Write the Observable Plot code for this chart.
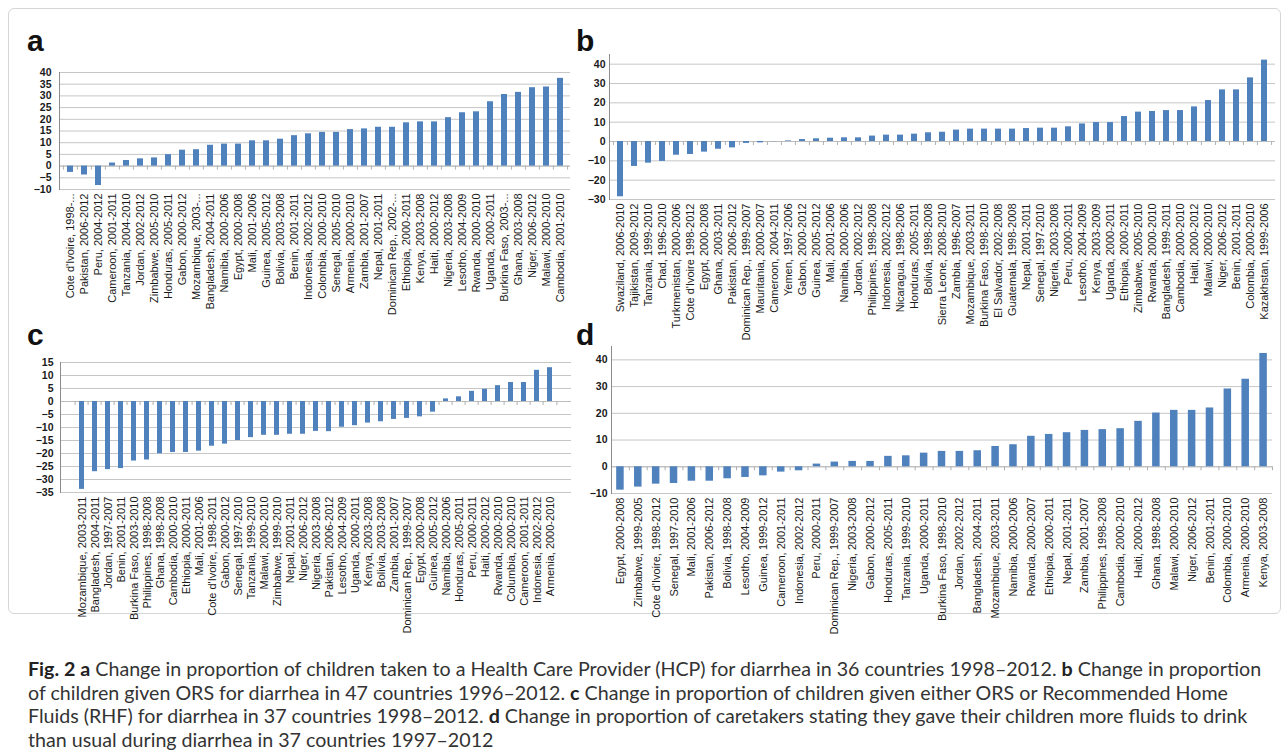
<!DOCTYPE html>
<html>
<head>
<meta charset="utf-8">
<script src="https://cdn.jsdelivr.net/npm/d3@7"></script>
<script src="https://cdn.jsdelivr.net/npm/@observablehq/plot@0.6"></script>
<style>
  html, body { margin: 0; padding: 0; background: #ffffff; }
  #page { position: relative; width: 1287px; height: 752px; overflow: hidden; }
  #box { position: absolute; left: 8px; top: 8px; width: 1271px; height: 604px; border: 1px solid #d6d6d6; border-radius: 6px; background: #fff; }
  .panel { position: absolute; }
  .panel svg text { font-family: "Liberation Sans", Arial, sans-serif; }
  .letter { position: absolute; font-family: "Liberation Sans", Arial, sans-serif; font-weight: bold; font-size: 30px; line-height: 1; color: #111; }
  #caption { position: absolute; left: 28px; top: 657px; font-family: Lato, "Open Sans", sans-serif; font-size: 18px; line-height: 23.7px; color: #333; white-space: nowrap; }
  #caption b { font-weight: bold; color: #222; }
</style>
</head>
<body>
<div id="page">
  <div id="box"></div>
  <div id="pa" class="panel" style="left:0px; top:60px;"></div>
  <div id="pb" class="panel" style="left:580px; top:45px;"></div>
  <div id="pc" class="panel" style="left:0px; top:350px;"></div>
  <div id="pd" class="panel" style="left:580px; top:335px;"></div>
  <div class="letter" style="left:27px; top:26px;">a</div>
  <div class="letter" style="left:576px; top:26px;">b</div>
  <div class="letter" style="left:27px; top:320px;">c</div>
  <div class="letter" style="left:576px; top:320px;">d</div>
  <div id="caption">
    <div class="cl"><b>Fig. 2</b> <b>a</b> Change in proportion of children taken to a Health Care Provider (HCP) for diarrhea in 36 countries 1998–2012. <b>b</b> Change in proportion</div>
    <div class="cl">of children given ORS for diarrhea in 47 countries 1996–2012. <b>c</b> Change in proportion of children given either ORS or Recommended Home</div>
    <div class="cl">Fluids (RHF) for diarrhea in 37 countries 1998–2012. <b>d</b> Change in proportion of caretakers stating they gave their children more fluids to drink</div>
    <div class="cl">than usual during diarrhea in 37 countries 1997–2012</div>
  </div>
</div>
<script>
// ---- Panel a: HCP ----
const aLabels = ["Cote d'Ivoire, 1998-...", "Pakistan, 2006-2012", "Peru, 2004-2012", "Cameroon, 2001-2011", "Tanzania, 2004-2010", "Jordan, 2002-2012", "Zimbabwe, 2005-2010", "Honduras, 2005-2011", "Gabon, 2000-2012", "Mozambique, 2003-...", "Bangladesh, 2004-2011", "Namibia, 2000-2006", "Egypt, 2000-2008", "Mali, 2001-2006", "Guinea, 2005-2012", "Bolivia, 2003-2008", "Benin, 2001-2011", "Indonesia, 2002-2012", "Colombia, 2000-2010", "Senegal, 2005-2010", "Armenia, 2000-2010", "Zambia, 2001-2007", "Nepal, 2001-2011", "Dominican Rep., 2002-...", "Ethiopia, 2000-2011", "Kenya, 2003-2008", "Haiti, 2000-2012", "Nigeria, 2003-2008", "Lesotho, 2004-2009", "Rwanda, 2000-2010", "Uganda, 2000-2011", "Burkina Faso, 2003-...", "Ghana, 2003-2008", "Niger, 2006-2012", "Malawi, 2000-2010", "Cambodia, 2001-2010"];
const aValues = [-2.7, -3.8, -8.3, 1.3, 2.4, 3.1, 3.5, 4.9, 6.8, 7.0, 8.9, 9.4, 9.4, 10.8, 10.8, 11.5, 13.0, 13.8, 14.4, 14.4, 15.6, 15.9, 16.6, 16.6, 18.5, 18.9, 18.9, 20.7, 22.8, 23.2, 27.5, 30.6, 31.5, 33.5, 33.8, 37.5];
const aTicks = [-10, -5, 0, 5, 10, 15, 20, 25, 30, 35, 40];

// ---- Panel b: ORS ----
const bLabels = ["Swaziland, 2006-2010", "Tajikistan, 2009-2012", "Tanzania, 1999-2010", "Chad, 1996-2010", "Turkmenistan, 2000-2006", "Cote d'Ivoire 1998-2012", "Egypt, 2000-2008", "Ghana, 2003-2011", "Pakistan, 2006-2012", "Dominican Rep., 1999-2007", "Mauritania, 2000-2007", "Cameroon, 2004-2011", "Yemen, 1997-2006", "Gabon, 2000-2012", "Guinea, 2005-2012", "Mali, 2001-2006", "Namibia, 2000-2006", "Jordan, 2002-2012", "Philippines, 1998-2008", "Indonesia, 2002-2012", "Nicaragua, 1998-2006", "Honduras, 2005-2011", "Bolivia, 1998-2008", "Sierra Leone, 2008-2010", "Zambia, 1996-2007", "Mozambique, 2003-2011", "Burkina Faso, 1998-2010", "El Salvador, 2002-2008", "Guatemala, 1998-2008", "Nepal, 2001-2011", "Senegal, 1997-2010", "Nigeria, 2003-2008", "Peru, 2000-2011", "Lesotho, 2004-2009", "Kenya, 2003-2009", "Uganda, 2000-2011", "Ethiopia, 2000-2011", "Zimbabwe, 2005-2010", "Rwanda, 2000-2010", "Bangladesh, 1999-2011", "Cambodia, 2000-2010", "Haiti, 2000-2012", "Malawi, 2000-2010", "Niger, 2006-2012", "Benin, 2001-2011", "Colombia, 2000-2010", "Kazakhstan, 1999-2006"];
const bValues = [-28.6, -12.9, -11.2, -10.3, -7.1, -6.7, -5.5, -4.0, -3.3, -1.0, -0.7, -0.1, 0.3, 1.0, 1.4, 1.7, 1.9, 1.9, 2.8, 3.3, 3.3, 3.8, 4.5, 4.8, 5.9, 6.4, 6.4, 6.4, 6.4, 6.7, 6.9, 6.9, 7.6, 9.1, 9.8, 9.8, 12.9, 15.2, 15.5, 16.0, 16.0, 17.9, 21.2, 26.7, 26.7, 32.9, 42.1];
const bTicks = [-30, -20, -10, 0, 10, 20, 30, 40];

// ---- Panel c: ORS or RHF ----
const cLabels = ["Mozambique, 2003-2011", "Bangladesh, 2004-2011", "Jordan, 1997-2007", "Benin, 2001-2011", "Burkina Faso, 2003-2010", "Philippines, 1998-2008", "Ghana, 1998-2008", "Cambodia, 2000-2010", "Ethiopia, 2000-2011", "Mali, 2001-2006", "Cote d'Ivoire, 1998-2011", "Gabon, 2000-2012", "Senegal, 1997-2010", "Tanzania, 1999-2010", "Malawi, 2000-2010", "Zimbabwe, 1999-2010", "Nepal, 2001-2011", "Niger, 2006-2012", "Nigeria, 2003-2008", "Pakistan, 2006-2012", "Lesotho, 2004-2009", "Uganda, 2000-2011", "Kenya, 2003-2008", "Bolivia, 2003-2008", "Zambia, 2001-2007", "Dominican Rep., 1999-2007", "Egypt, 2000-2008", "Guinea, 2005-2012", "Namibia, 2000-2006", "Honduras, 2005-2011", "Peru, 2000-2011", "Haiti, 2000-2012", "Rwanda, 2000-2010", "Columbia, 2000-2010", "Cameroon, 2001-2011", "Indonesia, 2002-2012", "Armenia, 2000-2010"];
const cValues = [-33.8, -27.0, -26.2, -25.8, -22.9, -22.5, -20.1, -19.6, -19.6, -19.1, -17.2, -16.4, -15.0, -13.9, -13.0, -13.0, -12.6, -12.6, -11.5, -11.6, -9.9, -9.3, -8.3, -7.8, -6.9, -6.5, -5.9, -4.1, 1.0, 1.8, 3.9, 4.7, 6.1, 7.3, 7.3, 12.0, 13.0];
const cTicks = [-35, -30, -25, -20, -15, -10, -5, 0, 5, 10, 15];

// ---- Panel d: more fluids ----
const dLabels = ["Egypt, 2000-2008", "Zimbabwe, 1999-2005", "Cote d'Ivoire, 1998-2012", "Senegal, 1997-2010", "Mali, 2001-2006", "Pakistan, 2006-2012", "Bolivia, 1998-2008", "Lesotho, 2004-2009", "Guinea, 1999-2012", "Cameroon, 2001-2011", "Indonesia, 2002-2012", "Peru, 2000-2011", "Dominican Rep., 1999-2007", "Nigeria, 2003-2008", "Gabon, 2000-2012", "Honduras, 2005-2011", "Tanzania, 1999-2010", "Uganda, 2000-2011", "Burkina Faso, 1998-2010", "Jordan, 2002-2012", "Bangladesh, 2004-2011", "Mozambique, 2003-2011", "Namibia, 2000-2006", "Rwanda, 2000-2007", "Ethiopia, 2000-2011", "Nepal, 2001-2011", "Zambia, 2001-2007", "Philippines, 1998-2008", "Cambodia, 2000-2010", "Haiti, 2000-2012", "Ghana, 1998-2008", "Malawi, 2000-2010", "Niger, 2006-2012", "Benin, 2001-2011", "Colombia, 2000-2010", "Armenia, 2000-2010", "Kenya, 2003-2008"];
const dValues = [-8.75, -7.6, -6.5, -6.25, -5.4, -5.4, -4.5, -4.0, -3.4, -2.0, -1.5, 1.0, 1.75, 2.0, 2.0, 3.9, 4.1, 5.1, 5.75, 5.75, 6.0, 7.6, 8.25, 11.4, 12.1, 12.75, 13.6, 13.9, 14.25, 17.0, 20.1, 21.1, 21.1, 22.0, 29.1, 32.75, 42.4];
const dTicks = [-10, 0, 10, 20, 30, 40];

function panel(labels, values, domain, ticks, opts) {
  const data = labels.map((label, i) => ({label, value: values[i]}));
  const n = labels.length;
  const step = (opts.width - opts.ml - opts.mr) / n;
  const bounds = data.map((d) => ({label: d.label, off: -step / 2}));
  bounds.push({label: labels[n - 1], off: step / 2});
  return Plot.plot({
    width: opts.width,
    height: opts.height,
    marginLeft: opts.ml,
    marginRight: opts.mr,
    marginTop: opts.mt,
    marginBottom: opts.mb,
    style: {fontFamily: "'Liberation Sans', Arial, sans-serif", fontSize: "11px", color: "#1a1a1a", background: "transparent", overflow: "visible"},
    x: {domain: labels, paddingInner: 0.58, paddingOuter: 0.29, label: null, axis: null},
    y: {domain, label: null, axis: null},
    marks: [
      Plot.ruleY(ticks, {stroke: "#c6c6c6", strokeWidth: 1}),
      Plot.ruleY([0], {stroke: "#bdbdbd", strokeWidth: 1}),
      Plot.ruleX(bounds, {x: "label", y1: 0, y2: 0, insetBottom: -4, stroke: "#b0b0b0",
        render(index, scales, values, dims, context, next) {
          const g = next(index, scales, values, dims, context);
          d3.select(g).selectAll("line").each(function(_, k) {
            const i = index[k];
            d3.select(this).attr("transform", `translate(${bounds[i].off},0)`);
          });
          return g;
        }
      }),
      Plot.frame({anchor: "left", stroke: "#8c8c8c"}),
      Plot.barY(data, {x: "label", y: "value", fill: "#4f81bd"}),
      Plot.axisY({ticks, tickSize: 0, tickPadding: opts.tp, fontWeight: "bold", fontSize: 10.5, label: null}),
      Plot.axisX({tickRotate: -90, tickSize: 0, tickPadding: 4, fontSize: 11, label: null})
    ]
  });
}

document.getElementById("pa").append(panel(aLabels, aValues, [-10, 40], aTicks, {width: 580, height: 270, ml: 59, mr: 10, mt: 12, mb: 141, tp: 8}));
document.getElementById("pb").append(panel(bLabels, bValues, [-30, 45], bTicks, {width: 700, height: 280, ml: 29, mr: 5, mt: 9, mb: 126, tp: 4}));
document.getElementById("pc").append(panel(cLabels, cValues, [-35, 15], cTicks, {width: 580, height: 260, ml: 60, mr: 9, mt: 12, mb: 118, tp: 7}));
document.getElementById("pd").append(panel(dLabels, dValues, [-10, 45], dTicks, {width: 700, height: 275, ml: 31, mr: 8, mt: 11, mb: 117, tp: 4}));

// fit caption width to the reference line width
const cap = document.getElementById("caption");
const first = cap.querySelector(".cl");
first.style.display = "inline-block";
const w = first.getBoundingClientRect().width;
first.style.display = "";
cap.style.fontSize = (18 * 1234 / w) + "px";
</script>
</body>
</html>
